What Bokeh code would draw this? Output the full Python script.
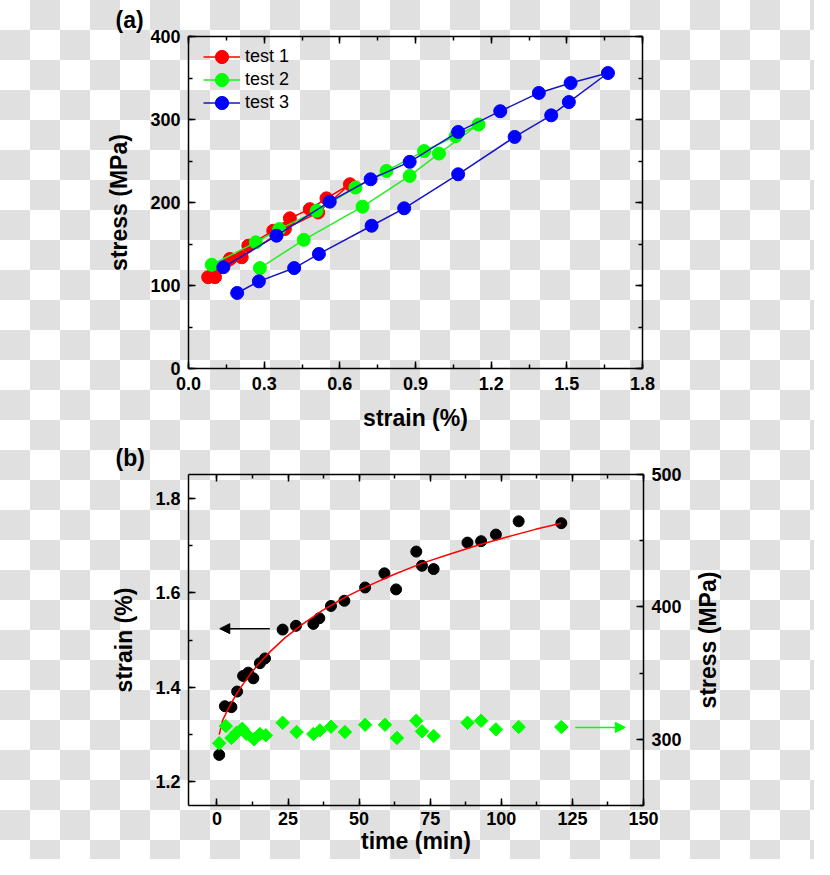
import math
from bokeh.plotting import figure
from bokeh.models import (Range1d, LinearAxis, SingleIntervalTicker, FixedTicker, PrintfTickFormatter,
                          Legend, LegendItem, Arrow, NormalHead, Column, Row, InlineStyleSheet)
from bokeh.embed import file_html
from bokeh.resources import INLINE

# ---------------- data: panel (a) stress-strain loops ----------------
t1_strain = [0.078, 0.164, 0.237, 0.336, 0.402, 0.481, 0.547, 0.640, 0.514, 0.382, 0.211, 0.105]
t1_stress = [110, 132, 148, 166, 181, 192, 205, 222, 188, 168, 134, 110]
t2_strain = [0.283, 0.457, 0.690, 0.877, 0.993, 1.150, 1.059, 0.934, 0.785, 0.662, 0.508, 0.360, 0.267, 0.092]
t2_stress = [121, 155, 195, 232, 259, 294, 280, 262, 238, 218, 190, 168, 152, 125]
t3_strain = [0.193, 0.279, 0.419, 0.517, 0.726, 0.855, 1.069, 1.293, 1.438, 1.508, 1.663,
             1.515, 1.389, 1.236, 1.069, 0.877, 0.722, 0.560, 0.349, 0.138]
t3_stress = [91, 105, 121, 138, 172, 193, 234, 279, 305, 321, 356,
             344, 332, 310, 285, 249, 228, 201, 160, 122]
legend_labels = ["test 1", "test 2", "test 3"]

# ---------------- data: panel (b) creep ----------------
time_pts = [0.8, 2.8, 5.1, 7.1, 9.2, 11.0, 12.8, 15.1, 16.9, 23.1, 27.8, 33.9, 36.0, 40.1, 44.8,
            52.1, 58.9, 63.0, 70.1, 72.1, 76.2, 88.1, 92.9, 98.1, 106.1, 121.1]
strain_pts = [1.257, 1.360, 1.358, 1.391, 1.424, 1.431, 1.419, 1.451, 1.461, 1.522, 1.530, 1.534, 1.546,
              1.572, 1.583, 1.611, 1.641, 1.607, 1.687, 1.657, 1.650, 1.706, 1.709, 1.723, 1.751, 1.747]
stress_time = [0.8, 3.1, 5.1, 6.9, 8.9, 10.4, 13.0, 15.1, 17.2, 23.1, 28.0, 33.9, 36.2, 40.1, 45.0,
               52.1, 59.1, 63.3, 70.1, 72.1, 76.2, 88.1, 92.9, 98.1, 106.1, 121.1]
stress_pts = [297, 310, 301, 305, 308, 304, 300, 304, 303, 312.5, 305.5, 304, 306.7, 309.5, 305.5,
              311, 311, 301, 314, 306, 302.5, 312.5, 314, 307.5, 309.3, 309.3]
fit_time = [0.8, 2, 3.5, 5, 7, 9, 12, 15, 19, 24, 30, 37, 45, 53, 62, 72, 82, 92, 102, 112, 121]
fit_strain = [1.300, 1.330, 1.349, 1.366, 1.387, 1.405, 1.430, 1.452, 1.477, 1.505, 1.533, 1.562,
              1.590, 1.614, 1.638, 1.662, 1.682, 1.701, 1.718, 1.734, 1.747]
strain_arrow = [18.6, 1.0, 1.524]     # x_start, x_end, y
stress_arrow = [126.0, 143.6, 309.0]  # x_start, x_end, y

FONT = "Liberation Sans"


def style_axis(ax, ticker, fmt=None, labels=True):
    ax.ticker = ticker
    if fmt is not None:
        ax.formatter = PrintfTickFormatter(format=fmt)
    ax.axis_line_color = "black"
    ax.axis_line_width = 1.5
    ax.major_tick_in = 7
    ax.major_tick_out = 0
    ax.minor_tick_in = 4
    ax.minor_tick_out = 0
    ax.major_tick_line_color = "black"
    ax.minor_tick_line_color = "black"
    ax.major_tick_line_width = 1.5
    ax.minor_tick_line_width = 1.5
    ax.major_label_text_font = FONT
    ax.major_label_text_font_style = "bold"
    ax.axis_label_text_font = FONT
    ax.axis_label_text_font_style = "bold"
    ax.axis_label_text_font_size = "23px"
    ax.axis_label_text_color = "black"
    if labels:
        ax.major_label_text_color = "black"
        ax.major_label_text_font_size = "18px"
        ax.major_label_standoff = 8
    else:
        ax.major_label_text_color = None
        ax.major_label_text_font_size = "0px"
        ax.major_label_standoff = 0


def base_fig(w, h, top, bottom, left, right, xr, yr, panel_tag):
    p = figure(width=w, height=h, x_range=xr, y_range=yr, output_backend="svg",
               toolbar_location=None, min_border_left=left, min_border_right=right,
               min_border_top=top, min_border_bottom=bottom)
    p.xgrid.visible = False
    p.ygrid.visible = False
    p.outline_line_color = None
    p.border_fill_color = None
    p.background_fill_color = None
    p.title.text = panel_tag
    p.title.align = "left"
    p.title.offset = -73
    p.title.standoff = 8
    p.title.text_font = FONT
    p.title.text_font_size = "23px"
    p.title.text_font_style = "bold"
    p.title.text_color = "black"
    return p


# ---------------- panel (a) ----------------
pa = base_fig(814, 438, 35, 70, 188, 172, Range1d(0, 1.8), Range1d(0, 400), "(a)")
style_axis(pa.xaxis[0], SingleIntervalTicker(interval=0.3, num_minor_ticks=2), "%.1f")
style_axis(pa.yaxis[0], SingleIntervalTicker(interval=100, num_minor_ticks=2), "%d")
pa.xaxis[0].axis_label = "strain (%)"
pa.xaxis[0].axis_label_standoff = 12
pa.yaxis[0].axis_label = "stress (MPa)"
pa.yaxis[0].axis_label_standoff = 15
ax_top = LinearAxis()
style_axis(ax_top, SingleIntervalTicker(interval=0.3, num_minor_ticks=2), labels=False)
pa.add_layout(ax_top, "above")
ax_right = LinearAxis()
style_axis(ax_right, SingleIntervalTicker(interval=100, num_minor_ticks=2), labels=False)
pa.add_layout(ax_right, "right")

legend_bottoms = [295.5, 272.5, 249.5]
for xs, ys, col, lcol, lab, lb in [(t1_strain, t1_stress, "#ff0000", "#ff0000", legend_labels[0], legend_bottoms[0]),
                                   (t2_strain, t2_stress, "#00ff00", "#22ee22", legend_labels[1], legend_bottoms[1]),
                                   (t3_strain, t3_stress, "#0000ff", "#1414c8", legend_labels[2], legend_bottoms[2])]:
    lr = pa.line(xs, ys, line_color=lcol, line_width=1.5)
    sr = pa.scatter(xs, ys, marker="circle", size=13, fill_color=col, line_color=col)
    leg = Legend(items=[LegendItem(label=lab, renderers=[lr, sr])], location=(15, lb),
                 glyph_width=37, glyph_height=33, spacing=0, padding=0, margin=0,
                 label_standoff=5, label_text_font=FONT, label_text_font_size="18px",
                 label_text_color="black", border_line_color=None, background_fill_alpha=0)
    pa.add_layout(leg)

# ---------------- panel (b) ----------------
pb = base_fig(690, 421, 36, 54, 188, 47, Range1d(-10, 150), Range1d(1.15, 1.85), "(b)")
pb.extra_y_ranges = {"stress": Range1d(250, 500)}
style_axis(pb.xaxis[0], SingleIntervalTicker(interval=25, num_minor_ticks=2), "%d")
pb.xaxis[0].major_label_standoff = 6
pb.xaxis[0].axis_label = "time (min)"
pb.xaxis[0].axis_label_standoff = 0
style_axis(pb.yaxis[0], SingleIntervalTicker(interval=0.2, num_minor_ticks=2), "%.1f")
pb.yaxis[0].axis_label = "strain (%)"
pb.yaxis[0].axis_label_standoff = 15
bt_top = LinearAxis()
style_axis(bt_top, SingleIntervalTicker(interval=25, num_minor_ticks=2), labels=False)
pb.add_layout(bt_top, "above")
bt_right = LinearAxis(y_range_name="stress")
style_axis(bt_right, SingleIntervalTicker(interval=100, num_minor_ticks=2), "%d")
pb.add_layout(bt_right, "right")

pb.scatter(time_pts, strain_pts, marker="circle", size=11, fill_color="black", line_color="black")
pb.line(fit_time, fit_strain, line_color="#ff0000", line_width=1.5)
pb.scatter(stress_time, stress_pts, y_range_name="stress", marker="square", angle=math.pi / 4,
           size=9.5, fill_color="#00ff00", line_color="#00ff00")

pb.add_layout(Arrow(end=NormalHead(size=10, fill_color="black", line_color="black"),
                    x_start=strain_arrow[0], x_end=strain_arrow[1],
                    y_start=strain_arrow[2], y_end=strain_arrow[2],
                    line_color="black", line_width=1.5))
pb.add_layout(Arrow(end=NormalHead(size=10, fill_color="#00ff00", line_color="#00ff00"),
                    x_start=stress_arrow[0], x_end=stress_arrow[1],
                    y_start=stress_arrow[2], y_end=stress_arrow[2], y_range_name="stress",
                    line_color="#00ff00", line_width=1.5))

# right-hand axis title of panel (b): a narrow companion figure whose left axis
# carries the title, so that it reads bottom-to-top like the original
pc = figure(width=124, height=421, x_range=Range1d(0, 1), y_range=Range1d(250, 500),
            output_backend="svg", toolbar_location=None, x_axis_location=None,
            min_border_left=30, min_border_right=0, min_border_top=36, min_border_bottom=54)
pc.xgrid.visible = False
pc.ygrid.visible = False
pc.outline_line_color = None
pc.border_fill_color = None
pc.background_fill_color = None
yl = pc.yaxis[0]
yl.ticker = FixedTicker(ticks=[])
yl.axis_line_color = None
yl.major_tick_line_color = None
yl.minor_tick_line_color = None
yl.major_tick_out = 0
yl.major_tick_in = 0
yl.minor_tick_out = 0
yl.minor_tick_in = 0
yl.major_label_text_color = None
yl.major_label_text_font_size = "0px"
yl.major_label_standoff = 0
yl.axis_label = "stress (MPa)"
yl.axis_label_standoff = 0
yl.axis_label_text_font = FONT
yl.axis_label_text_font_style = "bold"
yl.axis_label_text_font_size = "23px"
yl.axis_label_text_color = "black"

css = InlineStyleSheet(css=""":host {
  background-color: #ffffff;
  background-image: repeating-conic-gradient(#e0e0e0 0% 25%, #ffffff 0% 50%);
  background-size: 60px 60px;
  background-position: 0px 0px;
}""")
layout = Column(pa, Row(pb, pc, spacing=0), spacing=0, stylesheets=[css])

open("out.html", "w").write(file_html(layout, INLINE))
